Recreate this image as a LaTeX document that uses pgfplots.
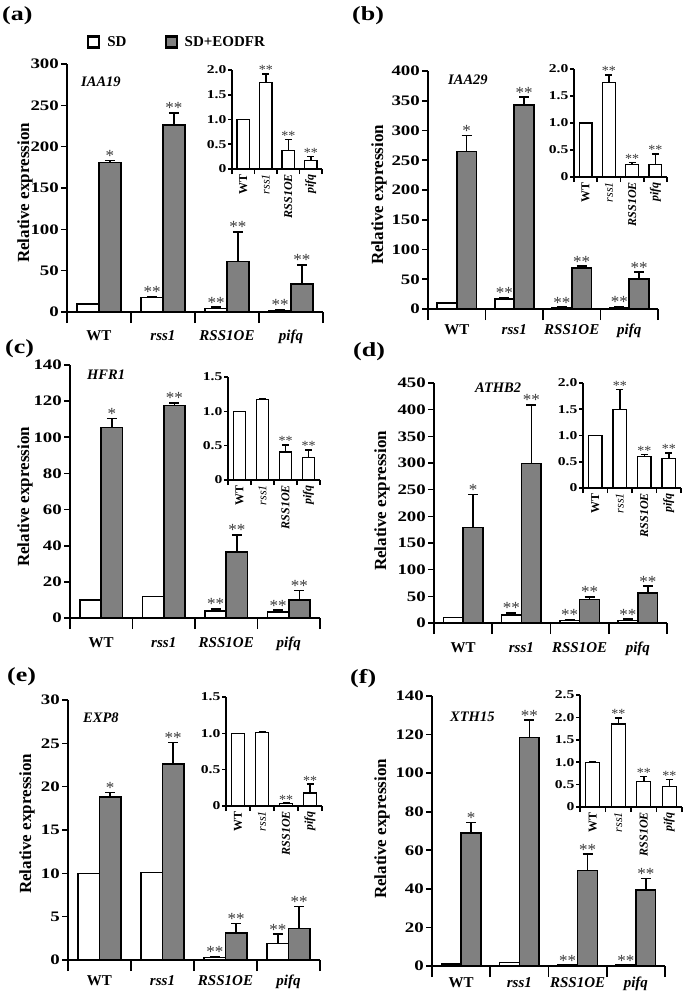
\documentclass[border=0pt]{standalone}
\usepackage{fontspec}
\setmainfont{Liberation Serif}
\newfontfamily\tk{Liberation Serif}[FakeStretch=1.3]
\usepackage{pgfplots}
\usepackage{pgfplotstable}
\pgfplotsset{compat=1.18}
\definecolor{barg}{RGB}{128,128,128}
\definecolor{stc}{RGB}{60,60,60}
\newcommand{\fs}[1]{\fontsize{#1bp}{#1bp}\selectfont}

\pgfplotsset{
 base/.style={scale only axis, anchor=south west, clip=false,
   xmin=-0.5, xmax=3.5, ymin=0, enlargelimits=false,
   axis x line*=bottom, axis y line*=left, tick align=outside,
   axis line style={line width=1.6bp, black},
   tick style={line width=1.6bp, black},
   xtick={0,1,2,3}, minor xtick={-0.5,0.5,1.5,2.5,3.5},
   major x tick style={draw=none},
 },
 mainax/.style={base, major tick length=6bp, minor tick length=11bp,
   yticklabel style={font=\tk\fs{14.5}\bfseries, inner sep=2bp},
   xticklabel style={font=\fs{15}\bfseries, anchor=base, yshift=-#1},
   xticklabels={WT,\textit{rss1},\textit{RSS1OE},\textit{pifq}},
 },
 inax/.style={base, major tick length=4bp, minor tick length=5bp,
   yticklabel style={font=\tk\fs{12}\bfseries, inner sep=1.5bp},
   xticklabel style={font=\fs{12}\bfseries, rotate=90, anchor=east, inner sep=1bp},
   xticklabels={WT,{\mdseries\itshape rss1},\textit{RSS1OE},\textit{pifq}},
 },
 errs/.style={error bars/.cd, y dir=plus, y explicit, error bar style={line width=1.5bp, black}, error mark options={rotate=90, mark size=#1, line width=1.5bp, black}},
 sdbar/.style={ybar, bar width=0.34, bar shift=0, fill=white, draw=black, line width=1.6bp, forget plot, errs=5bp},
 eobar/.style={ybar, bar width=0.34, bar shift=0, fill=barg, draw=black, line width=1.6bp, forget plot, errs=5bp},
 inbar/.style={ybar, bar width=0.55, bar shift=0, fill=white, draw=black, line width=1.3bp, forget plot, errs=3.5bp},
 stars/.style={draw=none, mark=none, forget plot, point meta=explicit symbolic, nodes near coords,
   every node near coord/.append style={font=\fs{#1}, text=stc, inner sep=0pt, anchor=base, yshift=-1bp}},
}
\newcommand{\mainbars}[1]{%
\addplot[sdbar] table[x expr=\thisrow{x}-0.17, y=sd, y error=sde] {#1};
\addplot[eobar] table[x expr=\thisrow{x}+0.17, y=eo, y error=eoe] {#1};}

% ---------- data (x: 0 WT, 1 rss1, 2 RSS1OE, 3 pifq) ----------
\pgfplotstableread{
x sd sde eo eoe
0 10 0 181 2
1 17.5 1.5 226 15
2 4 2 61 36
3 1.8 1.2 34 23
}\tA
\pgfplotstableread{
x v e
0 1 0
1 1.75 0.17
2 0.38 0.22
3 0.17 0.08
}\iA
\pgfplotstableread{
x sd sde eo eoe
0 10 0 265 27
1 17 2 343 13
2 2 1 69 3
3 2 2 50 12
}\tB
\pgfplotstableread{
x v e
0 1 0
1 1.75 0.14
2 0.23 0.04
3 0.23 0.20
}\iB
\pgfplotstableread{
x sd sde eo eoe
0 10 0 105.5 5
1 12 0 117.5 1.5
2 3.8 1.3 36.5 9.5
3 3.2 1.1 10 5.3
}\tC
\pgfplotstableread{
x v e
0 1 0
1 1.17 0.02
2 0.41 0.10
3 0.33 0.11
}\iC
\pgfplotstableread{
x sd sde eo eoe
0 10 0 179 62
1 14.5 4.5 299 110
2 5 1 44 5
3 5 2.5 56 13
}\tD
\pgfplotstableread{
x v e
0 1 0
1 1.50 0.38
2 0.60 0.04
3 0.56 0.11
}\iD
\pgfplotstableread{
x sd sde eo eoe
0 10 0 18.8 0.5
1 10.1 0 22.6 2.5
2 0.27 0.1 3.15 1.05
3 1.9 1.1 3.65 2.5
}\tE
\pgfplotstableread{
x v e
0 1 0
1 1.01 0.01
2 0.03 0.01
3 0.18 0.12
}\iE
\pgfplotstableread{
x sd sde eo eoe
0 1 0 69 5.3
1 1.8 0 118.5 9
2 0.4 0 49.5 8.5
3 0.4 0 39.3 6.2
}\tF
\pgfplotstableread{
x v e
0 1 0
1 1.85 0.14
2 0.57 0.11
3 0.46 0.15
}\iF

\begin{document}
\begin{tikzpicture}
\path[use as bounding box, fill=white] (0,0) rectangle (685bp,-991bp);

% ================= (a) =================
\begin{axis}[mainax=22bp, at={(67bp,-312bp)}, width=256bp, height=248bp, ymax=300,
  ytick={0,50,...,300}, yticklabels={0,50,100,150,200,250,300},
  legend style={at={(axis description cs:0.078,1.089)}, anchor=west, draw=none, fill=none,
    legend columns=2, font=\fs{15}\bfseries, inner sep=0pt,
    /tikz/every odd column/.append style={column sep=5bp},
    /tikz/every even column/.append style={column sep=36bp}}]
\mainbars{\tA}
\addplot[stars=17] coordinates {(0.83,19) [**] (1.83,6) [**] (2.83,3) [**]};
\addplot[stars=17] coordinates {(0.17,183) [*] (1.17,241) [**] (2.17,97) [**] (3.17,57) [**]};
\addlegendimage{legend image code/.code={\draw[line width=2.2bp, fill=white] (0bp,-5.5bp) rectangle (11bp,5.5bp);}}
\addlegendentry{SD}
\addlegendimage{legend image code/.code={\draw[line width=2.2bp, fill=barg] (0bp,-5.5bp) rectangle (11bp,5.5bp);}}
\addlegendentry{SD+EODFR}
\end{axis}
\begin{axis}[inax, at={(232bp,-169bp)}, width=90bp, height=99bp, ymax=2,
  ytick={0,0.5,1,1.5,2}, yticklabels={0,0.5,1.0,1.5,2.0}]
\addplot[inbar] table[x=x, y=v, y error=e] {\iA};
\addplot[stars=14] coordinates {(1,1.92) [**] (2,0.60) [**] (3,0.25) [**]};
\end{axis}

% ================= (b) =================
\begin{axis}[mainax=19bp, at={(428bp,-309bp)}, width=230bp, height=238bp, ymax=400,
  ytick={0,50,...,400}, yticklabels={0,50,100,150,200,250,300,350,400}]
\mainbars{\tB}
\addplot[stars=17] coordinates {(0.83,19) [**] (1.83,3) [**] (2.83,4) [**]};
\addplot[stars=17] coordinates {(0.17,292) [*] (1.17,356) [**] (2.17,72) [**] (3.17,62) [**]};
\end{axis}
\begin{axis}[inax, at={(574bp,-177bp)}, width=93bp, height=108bp, ymax=2,
  ytick={0,0.5,1,1.5,2}, yticklabels={0,0.5,1.0,1.5,2.0}]
\addplot[inbar] table[x=x, y=v, y error=e] {\iB};
\addplot[stars=14] coordinates {(1,1.89) [**] (2,0.27) [**] (3,0.43) [**]};
\end{axis}

% ================= (c) =================
\begin{axis}[mainax=23bp, at={(70bp,-618bp)}, width=250bp, height=253bp, ymax=140,
  ytick={0,20,...,140}, yticklabels={0,20,40,60,80,100,120,140}]
\mainbars{\tC}
\addplot[stars=17] coordinates {(1.83,5.1) [**] (2.83,4.3) [**]};
\addplot[stars=17] coordinates {(0.17,110.5) [*] (1.17,119) [**] (2.17,46) [**] (3.17,15.3) [**]};
\end{axis}
\begin{axis}[inax, at={(228bp,-480bp)}, width=92bp, height=103bp, ymax=1.5,
  ytick={0,0.5,1,1.5}, yticklabels={0,0.5,1.0,1.5}]
\addplot[inbar] table[x=x, y=v, y error=e] {\iC};
\addplot[stars=14] coordinates {(2,0.51) [**] (3,0.44) [**]};
\end{axis}

% ================= (d) =================
\begin{axis}[mainax=23bp, at={(434bp,-623bp)}, width=233bp, height=240bp, ymax=450,
  ytick={0,50,...,450}, yticklabels={0,50,100,150,200,250,300,350,400,450}]
\mainbars{\tD}
\addplot[stars=17] coordinates {(0.83,19) [**] (1.83,6) [**] (2.83,7.5) [**]};
\addplot[stars=17] coordinates {(0.17,241) [*] (1.17,409) [**] (2.17,49) [**] (3.17,69) [**]};
\end{axis}
\begin{axis}[inax, at={(583bp,-488bp)}, width=98bp, height=105bp, ymax=2,
  ytick={0,0.5,1,1.5,2}, yticklabels={0,0.5,1.0,1.5,2.0}]
\addplot[inbar] table[x=x, y=v, y error=e] {\iD};
\addplot[stars=14] coordinates {(1,1.88) [**] (2,0.64) [**] (3,0.67) [**]};
\end{axis}

% ================= (e) =================
\begin{axis}[mainax=19bp, at={(68bp,-960bp)}, width=252bp, height=260bp, ymax=30,
  ytick={0,5,...,30}, yticklabels={0,5,10,15,20,25,30}]
\mainbars{\tE}
\addplot[stars=17] coordinates {(1.83,0.37) [**] (2.83,3.0) [**]};
\addplot[stars=17] coordinates {(0.17,19.3) [*] (1.17,25.1) [**] (2.17,4.2) [**] (3.17,6.15) [**]};
\end{axis}
\begin{axis}[inax, at={(226bp,-806bp)}, width=96bp, height=109bp, ymax=1.5,
  ytick={0,0.5,1,1.5}, yticklabels={0,0.5,1.0,1.5}]
\addplot[inbar] table[x=x, y=v, y error=e] {\iE};
\addplot[stars=14] coordinates {(2,0.04) [**] (3,0.30) [**]};
\end{axis}

% ================= (f) =================
\begin{axis}[mainax=15bp, at={(432bp,-966bp)}, width=233bp, height=270bp, ymax=140,
  ytick={0,20,...,140}, yticklabels={0,20,40,60,80,100,120,140}]
\mainbars{\tF}
\addplot[stars=17] coordinates {(1.83,0.4) [**] (2.83,0.4) [**]};
\addplot[stars=17] coordinates {(0.17,74.3) [*] (1.17,127.5) [**] (2.17,58) [**] (3.17,45.5) [**]};
\end{axis}
\begin{axis}[inax, at={(580bp,-807bp)}, width=102bp, height=112bp, ymax=2.5,
  ytick={0,0.5,1,1.5,2,2.5}, yticklabels={0,0.5,1.0,1.5,2.0,2.5}]
\addplot[inbar] table[x=x, y=v, y error=e] {\iF};
\addplot[stars=14] coordinates {(1,1.99) [**] (2,0.68) [**] (3,0.61) [**]};
\end{axis}

% ---------- panel letters, gene names, y labels ----------
\begin{scope}[every node/.style={inner sep=0pt}]
\node[anchor=west, font=\tk\fs{20}\bfseries] at (2bp,-16bp) {(a)};
\node[anchor=west, font=\tk\fs{20}\bfseries] at (352bp,-16bp) {(b)};
\node[anchor=west, font=\tk\fs{20}\bfseries] at (5bp,-349bp) {(c)};
\node[anchor=west, font=\tk\fs{20}\bfseries] at (353bp,-352bp) {(d)};
\node[anchor=west, font=\tk\fs{20}\bfseries] at (7bp,-677bp) {(e)};
\node[anchor=west, font=\tk\fs{20}\bfseries] at (350bp,-679bp) {(f)};
\node[anchor=west, font=\fs{14.5}\bfseries\itshape] at (81bp,-81.5bp) {IAA19};
\node[anchor=west, font=\fs{14.5}\bfseries\itshape] at (448bp,-80bp) {IAA29};
\node[anchor=west, font=\fs{14.5}\bfseries\itshape] at (87bp,-375bp) {HFR1};
\node[anchor=west, font=\fs{14.5}\bfseries\itshape] at (475bp,-388bp) {ATHB2};
\node[anchor=west, font=\fs{14.5}\bfseries\itshape] at (83bp,-718bp) {EXP8};
\node[anchor=west, font=\fs{14.5}\bfseries\itshape] at (450bp,-717bp) {XTH15};
\node[rotate=90, anchor=south, font=\fs{17}\bfseries] at (33bp,-193bp) {Relative expression};
\node[rotate=90, anchor=south, font=\fs{17}\bfseries] at (387bp,-195bp) {Relative expression};
\node[rotate=90, anchor=south, font=\fs{17}\bfseries] at (33bp,-497bp) {Relative expression};
\node[rotate=90, anchor=south, font=\fs{17}\bfseries] at (390bp,-501bp) {Relative expression};
\node[rotate=90, anchor=south, font=\fs{17}\bfseries] at (35bp,-824bp) {Relative expression};
\node[rotate=90, anchor=south, font=\fs{17}\bfseries] at (390bp,-829bp) {Relative expression};
\end{scope}
\end{tikzpicture}
\end{document}
